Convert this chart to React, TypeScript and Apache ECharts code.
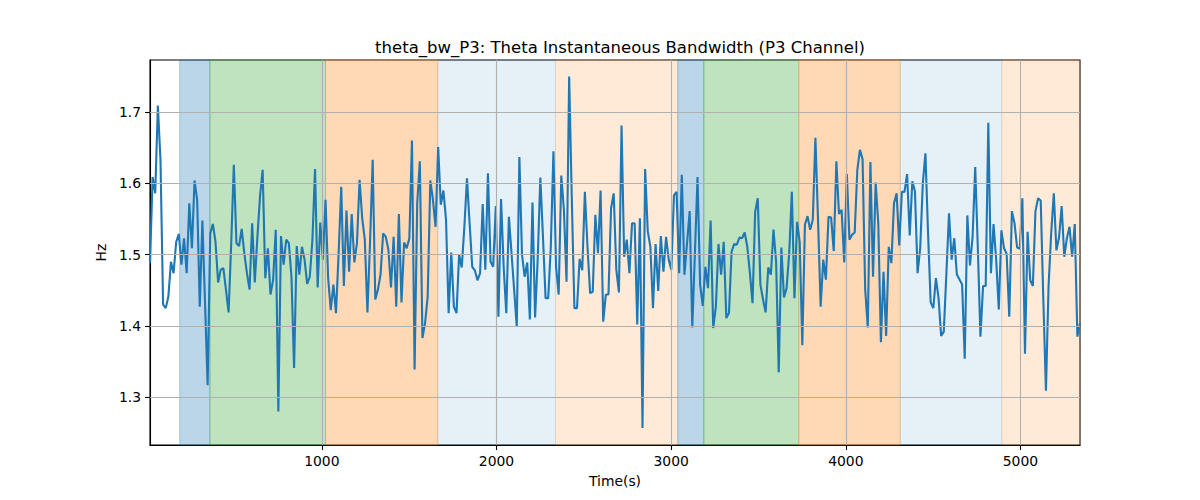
import React, { useEffect, useRef } from "react";
import * as echarts from "echarts";

// Sampling grid of the signal (seconds)
const SAMPLE_START = 16;
const SAMPLE_STEP = 15;

// Theta instantaneous bandwidth, P3 channel (Hz)
const bwValues: number[] = [
  1.488, 1.609, 1.586, 1.709, 1.633, 1.430, 1.425, 1.441, 1.490, 1.474,
  1.518, 1.529, 1.486, 1.523, 1.474, 1.572, 1.509, 1.604, 1.577, 1.427,
  1.548, 1.433, 1.317, 1.530, 1.543, 1.518, 1.461, 1.479, 1.481, 1.451,
  1.419, 1.516, 1.626, 1.516, 1.512, 1.536, 1.502, 1.474, 1.451, 1.544,
  1.461, 1.525, 1.582, 1.619, 1.467, 1.509, 1.444, 1.465, 1.535, 1.280,
  1.526, 1.486, 1.521, 1.516, 1.469, 1.341, 1.512, 1.472,
  1.511, 1.493, 1.459, 1.469, 1.521, 1.620, 1.454, 1.545, 1.493, 1.577,
  1.467, 1.422, 1.458, 1.418, 1.502, 1.595, 1.456, 1.562, 1.476, 1.557,
  1.489, 1.516, 1.605, 1.551, 1.521, 1.419, 1.518, 1.633, 1.437, 1.451,
  1.472, 1.530, 1.525, 1.507, 1.454, 1.525, 1.427, 1.557, 1.433, 1.517,
  1.509, 1.523, 1.660, 1.339, 1.572, 1.631, 1.383, 1.404, 1.441, 1.604,
  1.577, 1.539, 1.651, 1.570, 1.590, 1.549, 1.418, 1.503, 1.427,
  1.418, 1.500, 1.482, 1.539, 1.607, 1.544, 1.483, 1.478, 1.464, 1.474,
  1.571, 1.479, 1.614, 1.490, 1.483, 1.568, 1.413, 1.578, 1.483, 1.418,
  1.553, 1.502, 1.451, 1.399, 1.637, 1.500, 1.469, 1.489, 1.409, 1.573,
  1.412, 1.495, 1.608, 1.525, 1.439, 1.439, 1.511, 1.645, 1.483, 1.444,
  1.611, 1.563, 1.462, 1.750, 1.580, 1.425, 1.425, 1.494, 1.478, 1.588,
  1.511, 1.446, 1.448, 1.556, 1.502, 1.590, 1.406, 1.444, 1.444,
  1.565, 1.586, 1.479, 1.447, 1.681, 1.497, 1.521, 1.474, 1.544, 1.544,
  1.402, 1.551, 1.257, 1.620, 1.533, 1.511, 1.425, 1.515, 1.449, 1.526,
  1.476, 1.525, 1.493, 1.479, 1.583, 1.588, 1.474, 1.612, 1.472, 1.516,
  1.561, 1.398, 1.502, 1.609, 1.458, 1.428, 1.483, 1.453, 1.548, 1.397,
  1.427, 1.515, 1.472, 1.518, 1.411, 1.418, 1.504, 1.515, 1.514, 1.524,
  1.523, 1.531, 1.511, 1.474, 1.432, 1.560, 1.579, 1.458, 1.437,
  1.419, 1.482, 1.472, 1.535, 1.490, 1.335, 1.510, 1.440, 1.453, 1.502,
  1.588, 1.439, 1.546, 1.518, 1.373, 1.542, 1.554, 1.535, 1.549, 1.664,
  1.549, 1.427, 1.493, 1.465, 1.553, 1.552, 1.505, 1.631, 1.557, 1.563,
  1.489, 1.613, 1.521, 1.528, 1.531, 1.619, 1.647, 1.634, 1.451, 1.398,
  1.630, 1.469, 1.601, 1.544, 1.377, 1.476, 1.386, 1.511, 1.488, 1.572,
  1.586, 1.513, 1.588, 1.588, 1.613, 1.527, 1.603, 1.589, 1.474,
  1.509, 1.600, 1.642, 1.530, 1.433, 1.425, 1.467, 1.439, 1.386, 1.392,
  1.474, 1.558, 1.493, 1.523, 1.472, 1.465, 1.458, 1.354, 1.555, 1.485,
  1.525, 1.623, 1.509, 1.385, 1.456, 1.456, 1.685, 1.474, 1.543, 1.493,
  1.423, 1.534, 1.509, 1.501, 1.413, 1.561, 1.544, 1.510, 1.508, 1.579,
  1.361, 1.532, 1.464, 1.456, 1.561, 1.579, 1.576, 1.437, 1.309, 1.456,
  1.530, 1.586, 1.506, 1.524, 1.568, 1.497, 1.523, 1.539, 1.497, 1.543,
  1.385, 1.404,
];

// Shaded segments (seconds)
const bandStarts = [186, 359, 1021, 1664, 2338, 3038, 3187, 3731, 4312, 4893];
const bandEnds = [359, 1021, 1664, 2338, 3038, 3187, 3731, 4312, 4893, 5341];
const bandColors = [
  "31,119,180", "44,160,44", "255,127,14", "31,119,180", "255,127,14",
  "31,119,180", "44,160,44", "255,127,14", "31,119,180", "255,127,14",
];
const bandAlphas = [0.3, 0.3, 0.3, 0.11, 0.16, 0.3, 0.3, 0.3, 0.11, 0.16];

const xTicks = [1000, 2000, 3000, 4000, 5000];
const yTicks = [1.3, 1.4, 1.5, 1.6, 1.7];

const X_MIN = 16;
const X_MAX = 5341;
const Y_MIN = 1.233;
const Y_MAX = 1.773;

const FONT = "DejaVu Sans";

export default function App() {
  const ref = useRef<HTMLDivElement>(null);

  useEffect(() => {
    document.body.style.margin = "0";
    if (!ref.current) return;
    const chart = echarts.init(ref.current, undefined, { renderer: "svg" });

    const lineData = bwValues.map((v, i) => [SAMPLE_START + i * SAMPLE_STEP, v]);

    const areas = bandStarts.map((s, i) => [
      {
        xAxis: s,
        itemStyle: {
          color: `rgba(${bandColors[i]},${bandAlphas[i]})`,
          borderColor: `rgba(${bandColors[i]},${bandAlphas[i]})`,
          borderWidth: 1,
        },
      },
      { xAxis: bandEnds[i] },
    ]);

    const gridLines = [
      ...xTicks.map((t) => ({ xAxis: t })),
      ...yTicks.map((t) => ({ yAxis: t })),
    ];

    chart.setOption({
      animation: false,
      backgroundColor: "#ffffff",
      title: {
        text: "theta_bw_P3: Theta Instantaneous Bandwidth (P3 Channel)",
        left: 615,
        top: 34,
        textAlign: "center",
        textStyle: {
          fontFamily: FONT,
          fontSize: 16.5,
          fontWeight: "normal",
          color: "#000",
        },
      },
      grid: {
        left: 150,
        top: 60,
        right: 120,
        bottom: 55,
        show: true,
        borderColor: "#000",
        borderWidth: 1.1,
        backgroundColor: "transparent",
      },
      xAxis: {
        type: "value",
        min: X_MIN,
        max: X_MAX,
        name: "Time(s)",
        nameLocation: "middle",
        nameGap: 29,
        nameTextStyle: { fontFamily: FONT, fontSize: 13.9, color: "#000" },
        axisLine: { show: true, lineStyle: { color: "#000", width: 1.1 } },
        axisTick: {
          show: true,
          length: 5,
          lineStyle: { color: "#000", width: 1.1 },
          customValues: xTicks,
        },
        axisLabel: {
          fontFamily: FONT,
          fontSize: 13.9,
          color: "#000",
          margin: 9,
          customValues: xTicks,
          formatter: (v: number) => String(Math.round(v)),
        },
        splitLine: { show: false },
      },
      yAxis: {
        type: "value",
        min: Y_MIN,
        max: Y_MAX,
        name: "Hz",
        nameLocation: "middle",
        nameGap: 38,
        nameTextStyle: { fontFamily: FONT, fontSize: 13.9, color: "#000" },
        axisLine: { show: true, lineStyle: { color: "#000", width: 1.1 } },
        axisTick: {
          show: true,
          length: 5,
          lineStyle: { color: "#000", width: 1.1 },
          customValues: yTicks,
        },
        axisLabel: {
          fontFamily: FONT,
          fontSize: 13.9,
          color: "#000",
          margin: 9,
          customValues: yTicks,
          formatter: (v: number) => v.toFixed(1),
        },
        splitLine: { show: false },
      },
      series: [
        {
          type: "line",
          data: [],
          z: 1,
          silent: true,
          markArea: { silent: true, data: areas },
        },
        {
          type: "line",
          data: [],
          z: 2,
          silent: true,
          markLine: {
            silent: true,
            symbol: "none",
            label: { show: false },
            lineStyle: { color: "#b0b0b0", width: 1.1, type: "solid" },
            emphasis: { disabled: true },
            data: gridLines,
          },
        },
        {
          type: "line",
          data: lineData,
          z: 3,
          showSymbol: false,
          symbol: "none",
          clip: true,
          lineStyle: { color: "#1f77b4", width: 2.1 },
        },
      ],
    });

    return () => chart.dispose();
  }, []);

  return <div ref={ref} style={{ width: 1200, height: 500 }} />;
}
